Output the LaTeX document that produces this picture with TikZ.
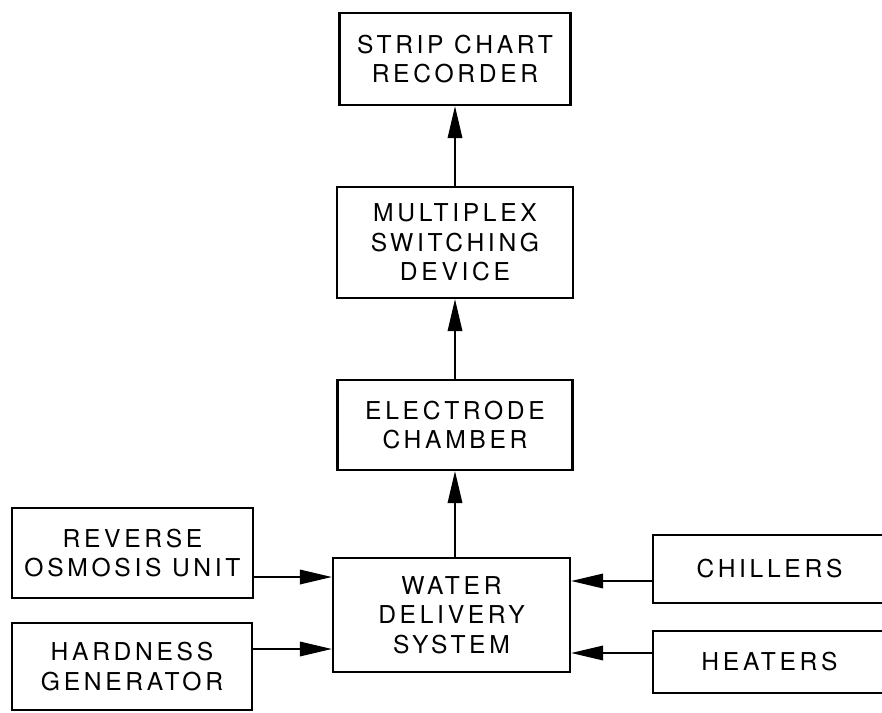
\documentclass[tikz,border=0pt]{standalone}
\usepackage{fontspec}
\setmainfont{TeX Gyre Heros}[LetterSpace=15]
\usepackage{tikz}
\usetikzlibrary{arrows.meta}

\begin{document}
\begin{tikzpicture}[x=0.025cm,y=-0.025cm,font=\fontsize{17.5}{21}\selectfont,
  blk/.style={draw,line width=1.5pt,align=center,inner sep=0pt},
  flow/.style={line width=1.5pt,-{Triangle[length=8mm,width=3.6mm]}}]
\clip (0,0) rectangle (882,712);
\node[blk,minimum width=5.775cm,minimum height=2.3cm] (rec) at (455,59) {STRIP CHART\\RECORDER};
\node[blk,minimum width=5.9cm,minimum height=2.775cm] (mux) at (455,242.5) {MULTIPLEX\\SWITCHING\\DEVICE};
\node[blk,minimum width=5.875cm,minimum height=2.25cm] (elec) at (455,425) {ELECTRODE\\CHAMBER};
\node[blk,minimum width=5.925cm,minimum height=2.85cm] (wds) at (451.5,615) {WATER\\DELIVERY\\SYSTEM};
\node[blk,minimum width=6.025cm,minimum height=2.25cm] (ro) at (132.5,553) {REVERSE\\OSMOSIS UNIT};
\node[blk,minimum width=6cm,minimum height=2.175cm] (hard) at (132,666.5) {HARDNESS\\GENERATOR};
\node[blk,minimum width=5.825cm,minimum height=1.7cm] (chill) at (769.5,569) {CHILLERS};
\node[blk,minimum width=5.825cm,minimum height=1.55cm] (heat) at (769.5,662) {HEATERS};
% feeds into the water system
\coordinate (roout) at ([yshift=-0.6cm]ro.east);
\coordinate (hardout) at ([yshift=0.4375cm]hard.east);
\coordinate (chillout) at ([yshift=-0.3cm]chill.west);
\coordinate (heatout) at ([yshift=0.225cm]heat.west);
\draw[flow] (roout) -- (roout -| wds.west);
\draw[flow] (hardout) -- (hardout -| wds.west);
\draw[flow] (chillout) -- (chillout -| wds.east);
\draw[flow] (heatout) -- (heatout -| wds.east);
% signal chain
\draw[flow] (elec.south |- wds.north) -- (elec.south);
\draw[flow] (elec.north) -- (mux.south);
\draw[flow] (mux.north) -- (rec.south);
\end{tikzpicture}
\end{document}
